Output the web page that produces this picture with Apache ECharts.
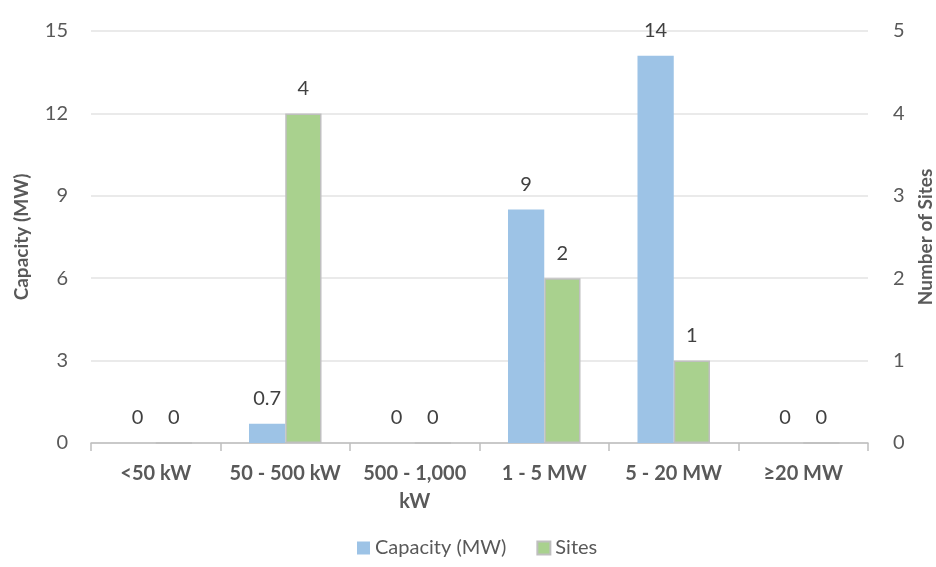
<!DOCTYPE html>
<html>
<head>
<meta charset="utf-8">
<script src="https://cdn.jsdelivr.net/npm/echarts@6/dist/echarts.min.js"></script>
<style>
  html, body { margin: 0; padding: 0; background: #fff; }
  #chart { width: 936px; height: 567px; }
</style>
</head>
<body>
<div id="chart"></div>
<script>
// Size bands of the installations
const categories = ['<50 kW', '50 - 500 kW', '500 - 1,000\nkW', '1 - 5 MW', '5 - 20 MW', '≥20 MW'];
// Installed capacity per band (MW), left axis
const capacity = [0, 0.7, 0, 8.5, 14.1, 0];
// Number of sites per band, right axis
const sites = [0, 4, 0, 2, 1, 0];
// Axis tick settings
const capacityTicks = { min: 0, max: 15, interval: 3 };
const siteTicks = { min: 0, max: 5, interval: 1 };

const FONT = 'Lato, "Open Sans", sans-serif';
const AXIS_GREY = '#595959';

function fmtLabel(p) {
  const v = p.value;
  if (v > 0 && v < 1) return v.toFixed(1);
  return String(Math.round(v));
}

const chart = echarts.init(document.getElementById('chart'), null, { renderer: 'canvas' });
chart.setOption({
  animation: false,
  backgroundColor: '#ffffff',
  textStyle: { fontFamily: FONT },
  grid: { left: 91, right: 68, top: 31, bottom: 124, containLabel: false, outerBoundsMode: 'none' },
  legend: {
    bottom: 4,
    left: 352,
    itemWidth: 13,
    itemHeight: 13,
    itemGap: 30,
    icon: 'rect',
    textStyle: { fontFamily: FONT, fontSize: 20, color: AXIS_GREY },
    data: ['Capacity (MW)', 'Sites']
  },
  xAxis: {
    type: 'category',
    data: categories,
    axisLine: { lineStyle: { color: '#bfbfbf', width: 1.5 } },
    axisTick: { show: true, length: 8, lineStyle: { color: '#bfbfbf', width: 1.5 } },
    axisLabel: {
      fontFamily: FONT, fontSize: 20, fontWeight: 'bold', color: AXIS_GREY,
      margin: 17, lineHeight: 28, interval: 0
    },
    splitLine: { show: false }
  },
  yAxis: [
    {
      type: 'value',
      min: capacityTicks.min, max: capacityTicks.max, interval: capacityTicks.interval,
      name: 'Capacity (MW)',
      nameLocation: 'middle',
      nameGap: 60,
      nameRotate: 90,
      nameTextStyle: { fontFamily: FONT, fontSize: 19, fontWeight: 'bold', color: AXIS_GREY },
      axisLine: { show: false },
      axisTick: { show: false },
      axisLabel: { fontFamily: FONT, fontSize: 20, color: AXIS_GREY, margin: 23 },
      splitLine: { lineStyle: { color: '#e3e3e3', width: 1.5 } }
    },
    {
      type: 'value',
      min: siteTicks.min, max: siteTicks.max, interval: siteTicks.interval,
      name: 'Number of Sites',
      nameLocation: 'middle',
      nameGap: 48,
      nameRotate: 90,
      nameTextStyle: { fontFamily: FONT, fontSize: 19, fontWeight: 'bold', color: AXIS_GREY },
      axisLine: { show: false },
      axisTick: { show: false },
      axisLabel: { fontFamily: FONT, fontSize: 20, color: AXIS_GREY, margin: 25 },
      splitLine: { show: false }
    }
  ],
  series: [
    {
      name: 'Capacity (MW)',
      type: 'bar',
      yAxisIndex: 0,
      data: capacity,
      barGap: '0%',
      barCategoryGap: '44%',
      itemStyle: { color: '#9dc3e6' },
      label: {
        show: true, position: 'top', distance: 15,
        fontFamily: FONT, fontSize: 20, color: '#404040',
        formatter: fmtLabel
      }
    },
    {
      name: 'Sites',
      type: 'bar',
      yAxisIndex: 1,
      data: sites,
      barGap: '0%',
      barCategoryGap: '44%',
      itemStyle: { color: '#a9d18e', borderColor: '#bfbfbf', borderWidth: 1.5 },
      label: {
        show: true, position: 'top', distance: 15,
        fontFamily: FONT, fontSize: 20, color: '#404040',
        formatter: fmtLabel
      }
    }
  ]
});
</script>
</body>
</html>
